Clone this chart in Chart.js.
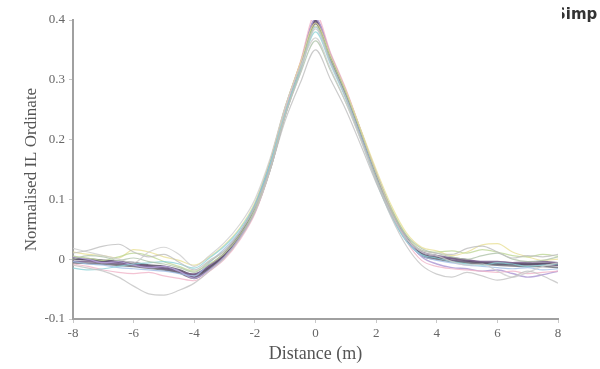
<!DOCTYPE html>
<html>
<head>
<meta charset="utf-8">
<script src="https://cdn.jsdelivr.net/npm/chart.js@4"></script>
<style>
  html, body { margin: 0; padding: 0; background: #fff; }
  #wrap { position: relative; width: 600px; height: 369px; }
  #mark {
    position: absolute; left: 562px; top: 5px; width: 38px; height: 22px;
    overflow: hidden; font: bold 15px "DejaVu Sans", sans-serif; color: #333;
  }
  #mark span { position: absolute; left: -7px; top: 0; }
</style>
</head>
<body>
<div id="wrap">
  <canvas id="chart" width="600" height="369"></canvas>
  <div id="mark"><span>Simp</span></div>
</div>
<script>
// distance along the profile (m)
const distance = [-8,-7.5,-7,-6.5,-6,-5.5,-5,-4.5,-4,-3.5,-3,-2.5,-2,-1.5,-1,-0.5,0,0.5,1,1.5,2,2.5,3,3.5,4,4.5,5,5.5,6,6.5,7,7.5,8];

const xTicks = [-8,-6,-4,-2,0,2,4,6,8];
const yTicks = [-0.1,0,0.1,0.2,0.3,0.4];

// pale individual runs
const runGrey1   = [0.010,0.015,0.022,0.025,0.012,0.004,0.008,-0.005,-0.018,-0.002,0.015,0.045,0.088,0.150,0.232,0.295,0.350,0.300,0.250,0.190,0.128,0.075,0.035,0.015,0.010,0.008,0.018,0.022,0.012,0.002,0.006,0.004,0.008];
const runGrey2   = [-0.010,-0.015,-0.020,-0.030,-0.045,-0.058,-0.060,-0.052,-0.040,-0.020,0.002,0.034,0.078,0.148,0.240,0.312,0.385,0.328,0.270,0.202,0.132,0.070,0.022,-0.010,-0.025,-0.030,-0.022,-0.028,-0.035,-0.030,-0.020,-0.028,-0.040];
const runCyan    = [-0.015,-0.018,-0.016,-0.012,-0.008,-0.006,-0.004,-0.008,-0.015,0.002,0.022,0.050,0.092,0.160,0.245,0.315,0.380,0.325,0.268,0.200,0.130,0.072,0.030,0.008,0.002,-0.004,-0.008,-0.010,-0.006,-0.008,-0.012,-0.010,-0.008];
const runGreen   = [0.005,0.002,-0.002,0.004,0.010,0.006,-0.004,-0.012,-0.020,-0.008,0.010,0.040,0.082,0.150,0.242,0.318,0.390,0.335,0.278,0.212,0.144,0.085,0.040,0.015,0.012,0.014,0.010,0.016,0.012,0.006,0.004,0.008,0.005];
const runPink    = [-0.008,-0.012,-0.018,-0.022,-0.024,-0.022,-0.028,-0.032,-0.036,-0.020,0.000,0.032,0.076,0.150,0.250,0.330,0.410,0.345,0.285,0.215,0.145,0.080,0.030,-0.002,-0.012,-0.016,-0.018,-0.020,-0.022,-0.020,-0.024,-0.022,-0.020];
const runLilac   = [0.004,0.000,-0.006,-0.004,-0.010,-0.014,-0.012,-0.020,-0.032,-0.018,0.004,0.036,0.082,0.155,0.250,0.325,0.402,0.342,0.282,0.214,0.146,0.084,0.036,0.004,-0.008,-0.014,-0.016,-0.020,-0.018,-0.024,-0.030,-0.026,-0.020];
const runYellow  = [0.012,0.008,0.006,0.002,0.016,0.012,0.004,-0.002,-0.010,0.004,0.024,0.052,0.095,0.165,0.255,0.328,0.395,0.340,0.282,0.216,0.150,0.090,0.044,0.020,0.014,0.006,0.012,0.024,0.026,0.012,0.004,-0.002,0.000];
const runGrey3   = [0.018,0.012,0.006,0.000,-0.006,0.012,0.020,0.008,-0.012,0.006,0.028,0.058,0.100,0.168,0.255,0.322,0.370,0.318,0.262,0.198,0.132,0.076,0.034,0.012,0.006,-0.004,-0.010,-0.008,-0.020,-0.030,-0.022,-0.012,-0.006];
const runBlue    = [-0.004,-0.008,-0.010,-0.014,-0.016,-0.018,-0.020,-0.024,-0.028,-0.006,0.018,0.046,0.088,0.158,0.248,0.318,0.388,0.330,0.272,0.206,0.138,0.076,0.030,0.006,-0.002,-0.006,-0.010,-0.012,-0.014,-0.016,-0.014,-0.018,-0.016];
const runSage    = [0.000,0.006,0.004,-0.002,0.002,-0.004,-0.008,-0.014,-0.022,-0.004,0.014,0.044,0.086,0.152,0.240,0.310,0.365,0.315,0.262,0.200,0.136,0.080,0.040,0.018,0.010,0.004,0.000,0.006,0.010,0.000,-0.004,-0.002,0.004];

// dark runs drawn on top
const runDark1 = [0.002,-0.001,-0.004,-0.005,-0.009,-0.012,-0.015,-0.020,-0.030,-0.014,0.006,0.038,0.082,0.155,0.246,0.320,0.400,0.340,0.280,0.212,0.142,0.082,0.036,0.008,0.002,-0.002,-0.004,-0.006,-0.008,-0.007,-0.009,-0.008,-0.010];
const runDark2 = [-0.004,-0.004,-0.006,-0.008,-0.010,-0.012,-0.016,-0.022,-0.025,-0.010,0.010,0.043,0.090,0.162,0.252,0.326,0.396,0.334,0.274,0.206,0.136,0.076,0.032,0.012,0.006,0.002,-0.001,-0.004,-0.004,-0.006,-0.005,-0.004,-0.006];
const runDark3 = [0.000,0.000,-0.002,-0.004,-0.006,-0.010,-0.012,-0.018,-0.026,-0.013,0.007,0.040,0.086,0.158,0.250,0.324,0.398,0.336,0.276,0.208,0.138,0.078,0.034,0.009,0.003,0.001,-0.002,-0.006,-0.007,-0.008,-0.008,-0.007,-0.008];
const runDark4 = [-0.006,-0.007,-0.008,-0.010,-0.012,-0.015,-0.018,-0.023,-0.032,-0.016,0.004,0.036,0.080,0.150,0.242,0.318,0.394,0.332,0.272,0.204,0.136,0.078,0.034,0.006,0.000,-0.004,-0.006,-0.008,-0.010,-0.011,-0.012,-0.012,-0.014];

const runs = [
  { values: runGrey1,  color: 'rgba(190,190,190,0.8)', width: 1.2 },
  { values: runGrey2,  color: 'rgba(195,195,195,0.8)', width: 1.2 },
  { values: runGrey3,  color: 'rgba(205,205,205,0.8)', width: 1.2 },
  { values: runSage,   color: 'rgba(175,195,170,0.8)', width: 1.2 },
  { values: runCyan,   color: 'rgba(140,210,215,0.8)', width: 1.2 },
  { values: runGreen,  color: 'rgba(190,215,150,0.8)', width: 1.2 },
  { values: runYellow, color: 'rgba(232,224,150,0.8)', width: 1.2 },
  { values: runPink,   color: 'rgba(240,180,200,0.8)', width: 1.2 },
  { values: runBlue,   color: 'rgba(160,190,230,0.8)', width: 1.2 },
  { values: runLilac,  color: 'rgba(180,160,215,0.9)', width: 1.4 },
  { values: runDark4,  color: 'rgba(110,110,120,0.85)', width: 1.8 },
  { values: runDark2,  color: 'rgba(120,95,140,0.85)', width: 1.8 },
  { values: runDark3,  color: 'rgba(90,80,105,0.85)', width: 2 },
  { values: runDark1,  color: 'rgba(105,85,125,0.9)', width: 2 }
];

const serif = '"Liberation Serif", "DejaVu Serif", serif';

new Chart(document.getElementById('chart'), {
  type: 'line',
  data: {
    datasets: runs.map(r => ({
      data: r.values.map((v, i) => ({ x: distance[i], y: v })),
      borderColor: r.color,
      borderWidth: r.width,
      pointRadius: 0,
      fill: false,
      cubicInterpolationMode: 'monotone'
    }))
  },
  options: {
    responsive: false,
    animation: false,
    layout: { padding: { top: 20, right: 42, left: 0, bottom: 0 } },
    plugins: { legend: { display: false }, tooltip: { enabled: false } },
    scales: {
      x: {
        type: 'linear',
        min: -8, max: 8,
        afterBuildTicks: s => { s.ticks = xTicks.map(v => ({ value: v })); },
        afterFit: s => { s.height = 50; },
        border: { color: '#a0a0a0', width: 2 },
        grid: { drawOnChartArea: false, drawTicks: true, tickLength: 4, color: '#c8c8c8' },
        ticks: { color: '#666', font: { family: serif, size: 13 }, padding: 3 },
        title: { display: true, text: 'Distance (m)', color: '#555', font: { family: serif, size: 18 }, padding: { top: 0 } }
      },
      y: {
        min: -0.1, max: 0.4,
        afterBuildTicks: s => { s.ticks = yTicks.map(v => ({ value: v })); },
        afterFit: s => { s.width = 73; },
        border: { color: '#a0a0a0', width: 2 },
        grid: { drawOnChartArea: false, drawTicks: true, tickLength: 4, color: '#c8c8c8' },
        ticks: {
          color: '#666', font: { family: serif, size: 13 }, padding: 4,
          callback: v => (Math.abs(v) < 1e-9 ? '0' : (Math.round(v * 10) / 10).toString())
        },
        title: { display: true, text: 'Normalised IL Ordinate', color: '#555', font: { family: serif, size: 17 }, padding: { top: 21, bottom: 0 } }
      }
    }
  }
});
</script>
</body>
</html>
